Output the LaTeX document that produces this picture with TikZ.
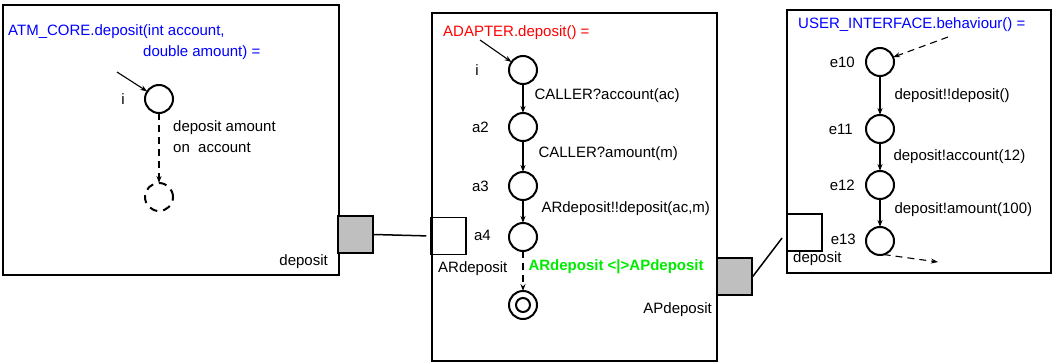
\documentclass[tikz,border=0pt]{standalone}
\usepackage{fontspec}
\setmainfont{Liberation Sans}
\usepackage{xcolor}
\usetikzlibrary{arrows.meta, positioning}

\definecolor{titleblue}{RGB}{0,0,255}
\definecolor{titlered}{RGB}{255,0,0}
\definecolor{syncgreen}{RGB}{0,235,0}

\begin{document}
\begin{tikzpicture}[
    x=1pt, y=-1pt,
    font=\fontsize{15}{21}\selectfont,
    process/.style={rectangle, draw, line width=1.5pt, inner sep=0pt},
    state/.style={circle, draw, line width=2pt, minimum size=28pt, inner sep=0pt, outer sep=0pt},
    port/.style={rectangle, draw, line width=1.5pt, minimum width=35pt, minimum height=37pt, inner sep=0pt},
    lbl/.style={inner sep=0pt},
    arrow/.style={-{Stealth[length=7pt, width=5pt]}, line width=1.1pt},
    dasharrow/.style={arrow, dash pattern=on 7pt off 5pt},
    link/.style={line width=1.5pt}
]

\useasboundingbox (0,0) rectangle (1053,364);

% Processes
\node[process, minimum width=336pt, minimum height=270pt] (core) at (171,140) {};
\node[process, minimum width=285pt, minimum height=348pt] (adapter) at (574.5,187) {};
\node[process, minimum width=264pt, minimum height=263pt] (ui) at (919,141.5) {};

% Ports
\node[port, fill=gray!50] (coreport) at (355.5,234.5) {};
\node[port] (adreq) at (448.5,236) {};
\node[port, fill=gray!50] (adprov) at (734.5,276.5) {};
\node[port] (uiport) at (804.5,232.5) {};

% Port names
\node[lbl, anchor=east] (coreportname) at (328,262) {deposit};
\node[lbl, anchor=west] (adreqname) at (438,269) {ARdeposit};
\node[lbl, anchor=east] (adprovname) at (712,310) {APdeposit};
\node[lbl, anchor=west] (uiportname) at (793,259) {deposit};

% Bindings
\draw[link, shorten >=4pt] (coreport.east) -- (adreq.west);
\draw[link, shorten >=7pt] (adprov.east) -- (uiport.west);

% ATM_CORE
\node[lbl, anchor=west, titleblue] (coretitle) at (8,32) {ATM\_CORE.deposit(int account,};
\node[lbl, anchor=west, titleblue] (coretitle2) at (143,53) {double amount) =};
\node[state] (c1) at (159,99) {};
\node[state, dash pattern=on 8pt off 6pt] (c2) [below=70pt of c1] {};
\node[lbl, left=20pt of c1] (c1name) {i};
\coordinate (c1in) at (117,72);
\draw[arrow] (c1in) -- (c1);
\draw[dasharrow] (c1) -- (c2);
\node[lbl, anchor=west, align=left] (coreaction) at (173,136.5) {deposit amount\\on~ account};

% ADAPTER
\node[lbl, anchor=west, titlered] (adtitle) at (443,33) {ADAPTER.deposit() =};
\node[state] (mi) at (523,70) {};
\node[state, below=29pt of mi] (a2) {};
\node[state, below=31pt of a2] (a3) {};
\node[state, below=23pt of a3] (a4) {};
\node[state, below=40pt of a4] (fin) {};
\node[state, minimum size=14pt] (fininner) at (fin) {};
\node[lbl, left=30pt of mi] (miname) {i};
\node[lbl, left=20pt of a2] (a2name) {a2};
\node[lbl, left=20pt of a3] (a3name) {a3};
\node[lbl, left=18pt of a4, yshift=2pt] (a4name) {a4};
\coordinate (miin) at (480,40);
\draw[arrow] (miin) -- (mi);
\draw[arrow] (mi) -- node[lbl, right=11pt, yshift=2.5pt] {CALLER?account(ac)} (a2);
\draw[arrow] (a2) -- node[lbl, right=15pt, yshift=2.5pt] {CALLER?amount(m)} (a3);
\draw[arrow] (a3) -- node[lbl, right=18pt, yshift=2.5pt] {ARdeposit!!deposit(ac,m)} (a4);
\draw[dasharrow] (a4) -- node[lbl, right=5pt, yshift=4pt, syncgreen] {\textbf{ARdeposit <|>APdeposit}} (fin);

% USER_INTERFACE
\node[lbl, anchor=west, titleblue] (uititle) at (798,25) {USER\_INTERFACE.behaviour() =};
\node[state] (e10) at (880,62) {};
\node[state, below=39pt of e10] (e11) {};
\node[state, below=28pt of e11] (e12) {};
\node[state, below=28pt of e12] (e13) {};
\node[lbl, left=11pt of e10] (e10name) {e10};
\node[lbl, left=13pt of e11] (e11name) {e11};
\node[lbl, left=11pt of e12] (e12name) {e12};
\node[lbl, left=10pt of e13, yshift=2pt] (e13name) {e13};
\coordinate (e10in) at (948,37);
\coordinate (e13out) at (938,262);
\draw[dasharrow] (e10in) -- (e10);
\draw[arrow] (e10) -- node[lbl, right=14pt] {deposit!!deposit()} (e11);
\draw[arrow] (e11) -- node[lbl, right=13pt] {deposit!account(12)} (e12);
\draw[arrow] (e12) -- node[lbl, right=14pt, yshift=3pt] {deposit!amount(100)} (e13);
\draw[dasharrow] (e13.-75) -- (e13out);

\end{tikzpicture}
\end{document}
